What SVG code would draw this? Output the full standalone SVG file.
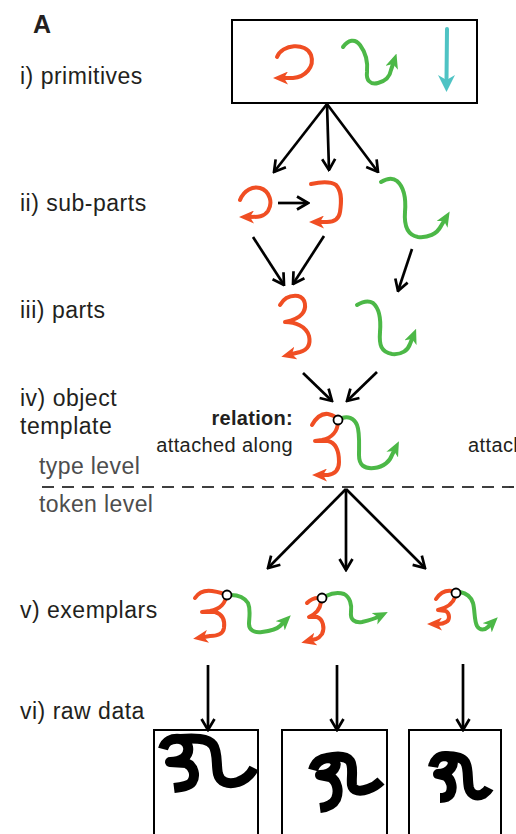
<svg xmlns="http://www.w3.org/2000/svg" width="516" height="834" viewBox="0 0 516 834">
  <defs>
    <marker id="openHead" viewBox="0 0 14 16" refX="12.5" refY="8" markerWidth="14" markerHeight="16" markerUnits="userSpaceOnUse" orient="auto">
      <path d="M1.5,1.5 L12.5,8 L1.5,14.5" fill="none" stroke="#000" stroke-width="2.7" stroke-linecap="butt" stroke-linejoin="miter"/>
    </marker>
    <marker id="redHead" viewBox="0 0 15 13" refX="4" refY="6.5" markerWidth="15" markerHeight="13" markerUnits="userSpaceOnUse" orient="auto">
      <path d="M0,0 L15,6.5 L0,13 L4,6.5 Z" fill="#f04e23"/>
    </marker>
    <marker id="greenHead" viewBox="0 0 15 13" refX="4" refY="6.5" markerWidth="15" markerHeight="13" markerUnits="userSpaceOnUse" orient="auto">
      <path d="M0,0 L15,6.5 L0,13 L4,6.5 Z" fill="#4cb847"/>
    </marker>
  </defs>
  <style>
    .label { font-family: "Liberation Sans", Arial, sans-serif; font-size: 23px; fill: #231f20; letter-spacing: 0.5px; }
    .level { font-family: "Liberation Sans", Arial, sans-serif; font-size: 23px; fill: #4d4d4d; letter-spacing: 0.4px; }
    .note { font-family: "Liberation Sans", Arial, sans-serif; font-size: 20px; fill: #231f20; letter-spacing: 0.4px; }
    .noteBold { font-family: "Liberation Sans", Arial, sans-serif; font-size: 20px; font-weight: bold; fill: #231f20; letter-spacing: 0.3px; }
    .panel { font-family: "Liberation Sans", Arial, sans-serif; font-size: 25px; font-weight: bold; fill: #231f20; }
    .conn { fill: none; stroke: #000; stroke-width: 2.7; marker-end: url(#openHead); }
    .red { fill: none; stroke: #f04e23; stroke-width: 4; stroke-linecap: round; stroke-linejoin: round; }
    .redA { marker-end: url(#redHead); }
    .green { fill: none; stroke: #4cb847; stroke-width: 4; stroke-linecap: round; stroke-linejoin: round; }
    .greenA { marker-end: url(#greenHead); }
    .joint { fill: #fff; stroke: #000; stroke-width: 1.8; }
    .box { fill: #fff; stroke: #000; stroke-width: 2; }
    .ink { fill: none; stroke: #000; stroke-width: 10; stroke-linecap: butt; stroke-linejoin: round; }
  </style>

  <rect width="516" height="834" fill="#fff"/>

  <!-- level labels -->
  <g id="labels">
    <text class="panel" x="33" y="33">A</text>
    <text class="label" x="20" y="84">i) primitives</text>
    <text class="label" x="20" y="211">ii) sub-parts</text>
    <text class="label" x="20" y="318">iii) parts</text>
    <text class="label" x="20" y="406">iv) object</text>
    <text class="label" x="20" y="434">template</text>
    <text class="level" x="39" y="474">type level</text>
    <text class="level" x="39" y="512">token level</text>
    <text class="label" x="20" y="618">v) exemplars</text>
    <text class="label" x="20" y="719">vi) raw data</text>
  </g>

  <!-- type / token divider -->
  <line x1="42" y1="487" x2="516" y2="487" stroke="#000" stroke-width="1.6" stroke-dasharray="12 8"/>

  <!-- i) primitives -->
  <g id="primitives">
    <rect class="box" x="232" y="20" width="245" height="83"/>
    <path class="red redA" d="M277 57 C282 44 306 42 311 55 C315 67 305 77 293 78 L284 78"/>
    <path class="green greenA" d="M343 47 C348 40 355 38 360 45 C366 53 368 62 367 72 C366 80 370 85 378 83 C386 81 390 76 391 70 L393 64"/>
    <line x1="447" y1="29" x2="446.5" y2="80" stroke="#4fc3c4" stroke-width="4" stroke-linecap="round"/>
    <polygon points="438,75 446.5,80 455,75 446.5,92" fill="#4fc3c4"/>
  </g>

  <!-- ii) sub-parts -->
  <g id="subparts">
    <path class="red redA" d="M240 200 C244 190 253 186 260 188 C270 191 273 203 268 211 C264 217 258 217 250 217"/>
    <path class="red redA" d="M311 184 C320 182 330 181 336 185 C343 192 341 205 340 212 C339 219 334 222 327 222 L320 222"/>
    <path class="green greenA" d="M381 182 C386 179 392 177 397 181 C405 188 406 200 405 212 C404 225 407 235 418 237 C428 238 437 234 441 226 L444 221"/>
  </g>

  <!-- iii) parts -->
  <g id="parts">
    <path class="red redA" d="M280 305 C284 298 290 295 298 296 C306 298 307 308 302 314 C298 319 290 321 285 322 C295 322 306 326 309 336 C311 345 307 350 300 352 L292 354"/>
    <path class="green greenA" d="M357 305 C362 302 368 300 373 303 C380 309 381 320 380 332 C379 345 381 352 392 354 C402 355 408 350 410 344 L412 339"/>
  </g>

  <!-- iv) object template -->
  <g id="template">
    <path class="red redA" d="M312 425 C316 418 321 413 328 414 C333 415 337 418 338 421 C338 431 332 438 322 440 L315 441 L328 441 C336 443 339 452 339 462 C339 470 335 474 328 475 L323 475"/>
    <path class="green greenA" d="M342 418 C348 416 354 418 357 425 C360 432 359 445 359 455 C359 465 364 469 374 468 C384 467 390 461 392 455 L394 451"/>
    <circle class="joint" cx="338" cy="420" r="4.5"/>
    <text class="noteBold" x="293" y="425" text-anchor="end">relation:</text>
    <text class="note" x="293" y="452" text-anchor="end">attached along</text>
    <text class="note" x="468" y="452">attached along</text>
  </g>

  <!-- v) exemplars -->
  <g id="exemplar1">
    <path class="red redA" d="M195 598 C199 592 205 590 212 591 C218 592 223 593 226 595 C226 603 220 609 210 611 L202 612 L215 612 C222 614 225 620 224 628 C223 634 218 636 210 636 L204 637"/>
    <path class="green greenA" d="M231 595 C238 595 244 597 248 603 C251 610 249 618 249 624 C249 630 254 633 262 632 C270 631 276 630 280 626 L283 623"/>
    <circle class="joint" cx="227" cy="595" r="4.5"/>
  </g>
  <g id="exemplar2">
    <path class="red" d="M307 603 C310 600 314 598 318 598"/>
    <path class="red redA" d="M321 602 C320 610 316 614 309 617 L317 617 C323 619 325 628 322 634 C320 637 319 638 316 639 L312 640"/>
    <path class="green greenA" d="M326 596 C332 593 338 592 344 594 C350 597 352 605 351 612 C350 620 355 623 362 622 C370 620 374 619 378 617"/>
    <circle class="joint" cx="322" cy="598" r="4.5"/>
  </g>
  <g id="exemplar3">
    <path class="red" d="M436 599 C440 593 446 590 452 591"/>
    <path class="red redA" d="M455 597 C453 604 446 608 438 610 L446 611 C450 614 450 620 446 622 C443 624 440 624 438 624"/>
    <path class="green greenA" d="M460 592 C466 593 471 597 473 603 C475 610 474 620 477 626 C480 631 485 630 488 627 L490 625"/>
    <circle class="joint" cx="456" cy="593" r="4.5"/>
  </g>

  <!-- vi) raw data -->
  <g id="raw1">
    <rect class="box" x="154" y="730" width="104" height="112"/>
    <path class="ink" d="M163 749 C165 741 172 738 180 739 C189 741 191 752 184 758 C180 761 176 762 170 762 L186 763 C194 766 196 776 192 782 C189 786 182 787 174 788"/>
    <path class="ink" d="M180 739 C194 738 208 738 213 745 C218 752 216 765 218 774 C220 782 228 785 238 782 C246 779 251 774 254 768"/>
  </g>
  <g id="raw2">
    <rect class="box" x="282" y="730" width="105" height="112"/>
    <path class="ink" d="M313 770 C315 763 320 759 327 758 C334 758 338 763 334 769 C331 773 326 775 320 775 L330 777 C338 781 339 792 336 799 C333 805 328 807 320 808"/>
    <path class="ink" d="M327 758 C336 756 346 756 350 761 C354 767 351 778 352 785 C353 791 360 792 368 789 C374 787 378 784 381 781"/>
  </g>
  <g id="raw3">
    <rect class="box" x="409" y="730" width="92" height="112"/>
    <path class="ink" d="M433 767 C434 760 439 756 445 756 C452 757 455 762 451 768 C448 772 443 774 438 774 L446 776 C452 780 453 789 450 794 C448 797 444 798 440 798"/>
    <path class="ink" d="M445 756 C453 756 462 757 465 762 C469 768 467 780 469 788 C471 795 477 797 483 794 C486 792 488 790 489 788"/>
  </g>

  <!-- connectors -->
  <g id="connectors">
    <line class="conn" x1="327" y1="104" x2="274" y2="172"/>
    <line class="conn" x1="327" y1="104" x2="329" y2="170"/>
    <line class="conn" x1="327" y1="104" x2="378" y2="172"/>
    <line class="conn" x1="278" y1="203" x2="308" y2="203"/>
    <line class="conn" x1="253" y1="237" x2="284" y2="285"/>
    <line class="conn" x1="324" y1="236" x2="293" y2="284"/>
    <line class="conn" x1="412" y1="249" x2="398" y2="291"/>
    <line class="conn" x1="303" y1="373" x2="332" y2="401"/>
    <line class="conn" x1="377" y1="372" x2="347" y2="401"/>
    <line class="conn" x1="346" y1="489" x2="268" y2="568"/>
    <line class="conn" x1="346" y1="489" x2="346" y2="570"/>
    <line class="conn" x1="346" y1="489" x2="425" y2="568"/>
    <line class="conn" x1="208" y1="665" x2="208" y2="730"/>
    <line class="conn" x1="337" y1="665" x2="337" y2="730"/>
    <line class="conn" x1="463" y1="664" x2="463" y2="730"/>
  </g>
</svg>
